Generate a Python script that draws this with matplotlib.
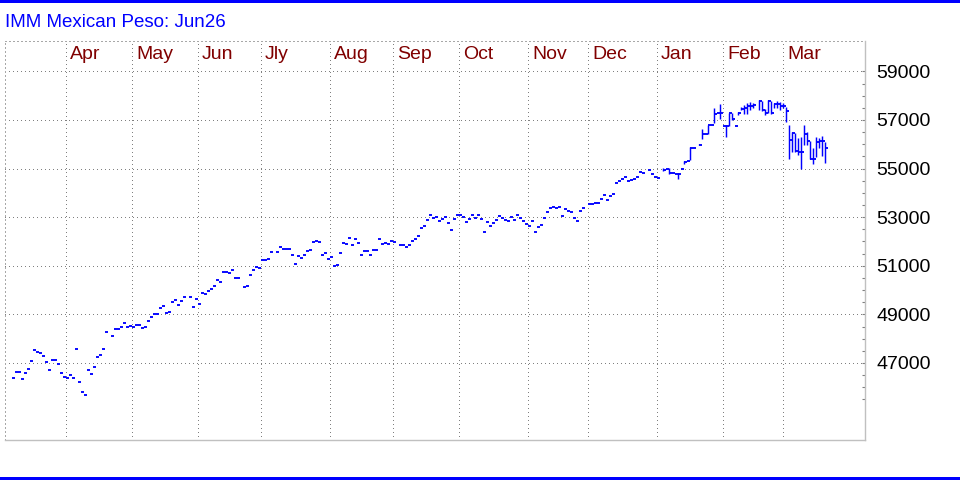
import numpy as np
import pandas as pd
import matplotlib
matplotlib.use("Agg")
import matplotlib.pyplot as plt
from matplotlib.patches import Rectangle
from matplotlib.ticker import FixedLocator, NullFormatter

title = "IMM Mexican Peso: Jun26"
start = "2025-03-05"
end = "2026-03-19"
holidays = ["2025-04-18", "2025-05-26", "2025-06-19", "2025-07-04", "2025-09-01",
            "2025-11-27", "2025-12-25", "2026-01-01", "2026-01-19", "2026-02-16"]

# Mar 5 2025 - Dec 31 2025 (single-price bars)
close_2025 = [
    46370, 46617, 46617, 46329, 46576, 46740, 47070, 47522, 47440, 47399,
    47276, 47029, 46699, 47111, 47111, 46946, 46576, 46411, 46370, 46494,
    46370, 47563, 46206, 45794, 45670, 46699, 46535, 46823, 47234, 47317, 47563, 48263,
    48098, 48387, 48387, 48469, 48633, 48469, 48510, 48469, 48551, 48551,
    48428, 48469, 48716, 48893, 49004, 49004, 49251, 49333, 49045, 49086,
    49498, 49580, 49374, 49539, 49704,
    49704, 49292, 49621, 49415, 49868, 49827, 49950, 50033, 50156, 50403,
    50321, 50732, 50732, 50691, 50815, 50485, 50485,
    50115, 50156, 50609, 50815, 50938, 50897, 51226, 51226, 51267, 51555,
    51555, 51761, 51679, 51679, 51679, 51432, 51062, 51391, 51308, 51432,
    51596, 51638, 51967, 52008, 51967, 51432, 51514, 51267, 51350, 50979,
    51020, 51514, 51926, 51885, 52132, 51843, 52090, 51926, 51432, 51596,
    51596, 51432, 51638, 51638, 52090, 51885, 51926, 51885, 52008, 51967,
    51843, 51843, 51761, 51843, 52008, 52090, 52214, 52543, 52625, 52872,
    53078, 52954, 52996, 52831, 52913, 52996, 52749, 52461, 52913, 53078,
    53078, 52996, 52790, 52913, 53078, 52954, 53078, 52913, 52378, 52790,
    52625, 52749, 52872, 53037, 52954, 52872, 52831, 52996, 52872, 53078,
    52954, 52831, 52708, 52625, 52831, 52378, 52584, 52666, 52954, 53201,
    53366, 53407, 53366, 53407, 53037, 53325, 53243, 53201, 52954, 52831,
    53243, 53366,
    53531, 53531, 53572, 53572, 53736, 53901, 53695, 53860, 53942, 54395,
    54477, 54559, 54642, 54477, 54518, 54559, 54642, 54848, 54806,
    54930, 54765, 54642, 54601,
]

# Jan 2 2026 - Mar 19 2026
high_2026 = [55024, 54996, 55012, 54831, 54765, 54831, 54996, 55300, 55325, 55876, 55860,
             56000, 56609, 56411, 56802, 56802, 57481, 57275, 57658, 56753, 56794,
             57300, 57290, 56765, 57329, 57522, 57605, 57687, 57720, 57687,
             57823, 57794, 57440, 57823, 57794, 57712, 57794, 57753, 57712, 57547,
             56794, 56494, 56452, 56271, 56288, 56794, 56494, 56136, 55860, 56312,
             56247, 56341, 56094]
low_2026 = [54913, 54996, 54790, 54831, 54765, 54572, 54996, 55177, 55325, 55341, 55860,
            55959, 56206, 56411, 56444, 56802, 56876, 57275, 57053, 56753, 56312,
            56753, 57010, 56765, 57206, 57399, 57259, 57259, 57411, 57481,
            57411, 57383, 57206, 57300, 57259, 57481, 57481, 57411, 57481, 56930,
            55407, 55695, 55695, 55547, 54971, 55970, 55970, 55407, 55177, 55490,
            55860, 55518, 55218]
close_2026 = [54942, 54996, 54806, 54831, 54765, 54765, 54996, 55259, 55325, 55860, 55860,
              55971, 56411, 56411, 56782, 56802, 57267, 57275, 57275, 56753, 56753,
              57275, 57050, 56765, 57288, 57465, 57481, 57588, 57588, 57629,
              57782, 57411, 57275, 57794, 57300, 57671, 57671, 57576, 57576, 57370,
              56177, 56452, 55736, 55695, 55695, 56424, 56136, 55407, 55407, 56107,
              56136, 56136, 55835]

month_labels = ["Apr", "May", "Jun", "Jly", "Aug", "Sep", "Oct", "Nov", "Dec", "Jan", "Feb", "Mar"]
month_starts = pd.date_range("2025-04-01", "2026-03-01", freq="MS")
price_labels = [47000, 49000, 51000, 53000, 55000, 57000, 59000]

close = np.array(close_2025 + close_2026, dtype=float)
high = np.array(close_2025 + high_2026, dtype=float)
low = np.array(close_2025 + low_2026, dtype=float)

dates = pd.bdate_range(start, end, freq="C", holidays=holidays)
d64 = dates.values.astype("datetime64[D]")
x = np.busday_count(np.datetime64(start), d64).astype(float)
n = min(len(x), len(close))
x, close, high, low = x[:n], close[:n], high[:n], low[:n]

W, H = 960, 480
fig = plt.figure(figsize=(W / 100, H / 100), dpi=100)
fig.patch.set_facecolor("white")

# axes placement (pixels)
ax_l, ax_r, ax_t, ax_b = 5, 865, 40.7, 440
ax = fig.add_axes([ax_l / W, (H - ax_b) / H, (ax_r - ax_l) / W, (ax_b - ax_t) / H])
ax.set_facecolor("white")

FONT = "Liberation Sans"
blue = "#0000FF"
grid_c = "#808080"
frame_c = "#A8A8A8"
dotted = (0, (1, 3))

ax.set_xlim(-2.33, 284.33)
ax.set_ylim(43831, 60263)

# grids
for v in price_labels:
    ax.axhline(v, color=grid_c, lw=0.72, ls=dotted, zorder=1, antialiased=False)
mx = []
for ms in month_starts:
    first = np.busday_offset(np.datetime64(ms.date(), "D"), 0, roll="forward")
    gx = np.busday_count(np.datetime64(start), first) - 1
    mx.append(gx)
    ax.axvline(gx, color=grid_c, lw=0.72, ls=dotted, zorder=1, antialiased=False)

# month labels at the top inside the plot
for gx, lab in zip(mx, month_labels):
    ax.text(gx + 1.35, 0.9534, lab, transform=ax.get_xaxis_transform(),
            ha="left", va="baseline", color="#800000", fontsize=14, family=FONT)

# OHLC bars
ax.vlines(x + 0.12, low, high, color=blue, lw=1.05, zorder=3)
ax.hlines(close, x, x + 1.0, color=blue, lw=1.35, zorder=3)

# spines
for s in ["top", "left"]:
    ax.spines[s].set_color(frame_c)
    ax.spines[s].set_linestyle(dotted)
    ax.spines[s].set_linewidth(0.72)
    ax.spines[s].set_antialiased(False)
for s in ["right", "bottom"]:
    ax.spines[s].set_color("#C0C0C0")
    ax.spines[s].set_linewidth(1.0)

ax.set_xticks([])
ax.yaxis.set_ticks_position("right")
ax.yaxis.set_major_locator(FixedLocator(price_labels))
ax.yaxis.set_minor_locator(FixedLocator(np.arange(45500, 59001, 500)))
ax.yaxis.set_minor_formatter(NullFormatter())
ax.set_yticklabels([str(v) for v in price_labels], family=FONT, fontsize=14, color="black")
ax.tick_params(axis="y", which="both", direction="in", length=2.4, width=0.8,
               color=grid_c, right=True, left=False, labelright=True, labelleft=False)
ax.tick_params(axis="y", which="major", pad=8)

# title
fig.text(5 / W, (H - 26.7) / H, title, color=blue, fontsize=13.5, family=FONT,
         ha="left", va="baseline")

# blue border lines
fig.add_artist(Rectangle((0, (H - 3) / H), 1, 3 / H, transform=fig.transFigure,
                         color=blue, lw=0))
fig.add_artist(Rectangle((0, 0.5 / H), 1, 2.5 / H, transform=fig.transFigure,
                         color=blue, lw=0))

fig.savefig("out.png", dpi=100, facecolor="white")
